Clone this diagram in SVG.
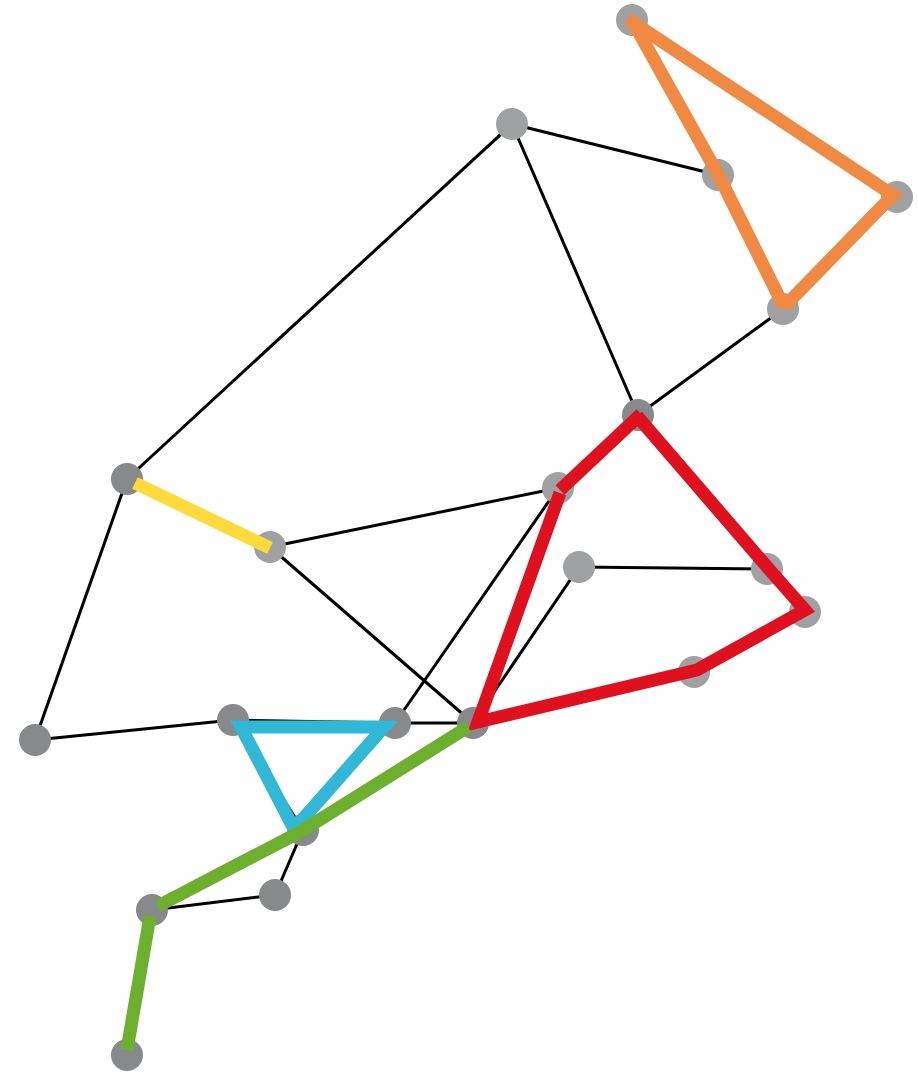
<svg xmlns="http://www.w3.org/2000/svg" width="918" height="1073" viewBox="0 0 918 1073">
<style>
.e{stroke:#000;stroke-width:3;fill:none}
.nl{fill:#a0a1a3}
.nd{fill:#88898b}
.p{fill:none;stroke-width:13;stroke-linecap:butt;stroke-linejoin:miter}
</style>
<rect width="918" height="1073" fill="#fff"/>
<g id="edges">
<line class="e" x1="512" y1="124" x2="718" y2="175"/>
<line class="e" x1="512" y1="124" x2="127" y2="479"/>
<line class="e" x1="512" y1="124" x2="638" y2="415"/>
<line class="e" x1="897" y1="197" x2="783" y2="309"/>
<line class="e" x1="783" y1="309" x2="638" y2="415"/>
<line class="e" x1="638" y1="415" x2="558" y2="488"/>
<line class="e" x1="638" y1="415" x2="767" y2="569"/>
<line class="e" x1="558" y1="488" x2="270" y2="547"/>
<line class="e" x1="558" y1="488" x2="395" y2="723"/>
<line class="e" x1="558" y1="488" x2="473" y2="723"/>
<line class="e" x1="270" y1="547" x2="473" y2="723"/>
<line class="e" x1="579" y1="567" x2="767" y2="569"/>
<line class="e" x1="579" y1="567" x2="473" y2="723"/>
<line class="e" x1="127" y1="479" x2="35" y2="740"/>
<line class="e" x1="35" y1="740" x2="233" y2="720"/>
<line class="e" x1="233" y1="720" x2="395" y2="723"/>
<line class="e" x1="395" y1="723" x2="473" y2="723"/>
<line class="e" x1="233" y1="720" x2="303" y2="830"/>
<line class="e" x1="303" y1="830" x2="275" y2="895"/>
<line class="e" x1="275" y1="895" x2="152" y2="910"/>
</g>
<g id="nodes">
<circle id="n1" class="nl" cx="632" cy="20" r="16"/>
<circle id="n2" class="nl" cx="512" cy="124" r="16"/>
<circle id="n3" class="nl" cx="718" cy="175" r="16"/>
<circle id="n4" class="nl" cx="897" cy="197" r="16"/>
<circle id="n5" class="nl" cx="783" cy="309" r="16"/>
<circle id="n6" class="nd" cx="638" cy="415" r="16"/>
<circle id="n7" class="nl" cx="558" cy="488" r="16"/>
<circle id="n8" class="nd" cx="127" cy="479" r="16"/>
<circle id="n9" class="nl" cx="270" cy="547" r="16"/>
<circle id="n10" class="nl" cx="579" cy="567" r="16"/>
<circle id="n11" class="nl" cx="767" cy="569" r="16"/>
<circle id="n12" class="nl" cx="805" cy="612" r="16"/>
<circle id="n13" class="nl" cx="694" cy="672" r="16"/>
<circle id="n14" class="nd" cx="35" cy="740" r="16"/>
<circle id="n15" class="nd" cx="233" cy="720" r="16"/>
<circle id="n16" class="nd" cx="395" cy="723" r="16"/>
<circle id="n17" class="nd" cx="473" cy="723" r="16"/>
<circle id="n18" class="nd" cx="303" cy="830" r="16"/>
<circle id="n19" class="nd" cx="275" cy="895" r="16"/>
<circle id="n20" class="nd" cx="152" cy="910" r="16"/>
<circle id="n21" class="nd" cx="127" cy="1055" r="16"/>
</g>
<g id="paths">
<polyline class="p" stroke="#f08a43" points="634,24 719,176 784,307"/>
<polyline class="p" stroke="#f08a43" points="628,19 893,195 784,307"/>
<line class="p" stroke="#fedb3b" stroke-width="12" x1="135" y1="483" x2="270" y2="548"/>
<line class="p" stroke="#e0111f" x1="641" y1="414" x2="560" y2="490"/>
<polyline class="p" stroke="#e0111f" points="560,493 478,722 697,670 805,610 768,568 637,416"/>
<polygon class="p" stroke="#31b8d6" points="241,727 384,727 294,829"/>
<polyline class="p" stroke="#6db02d" points="468,727 300,832 158,906"/>
<line class="p" stroke="#6db02d" x1="150" y1="916" x2="127" y2="1050"/>
</g>
</svg>
